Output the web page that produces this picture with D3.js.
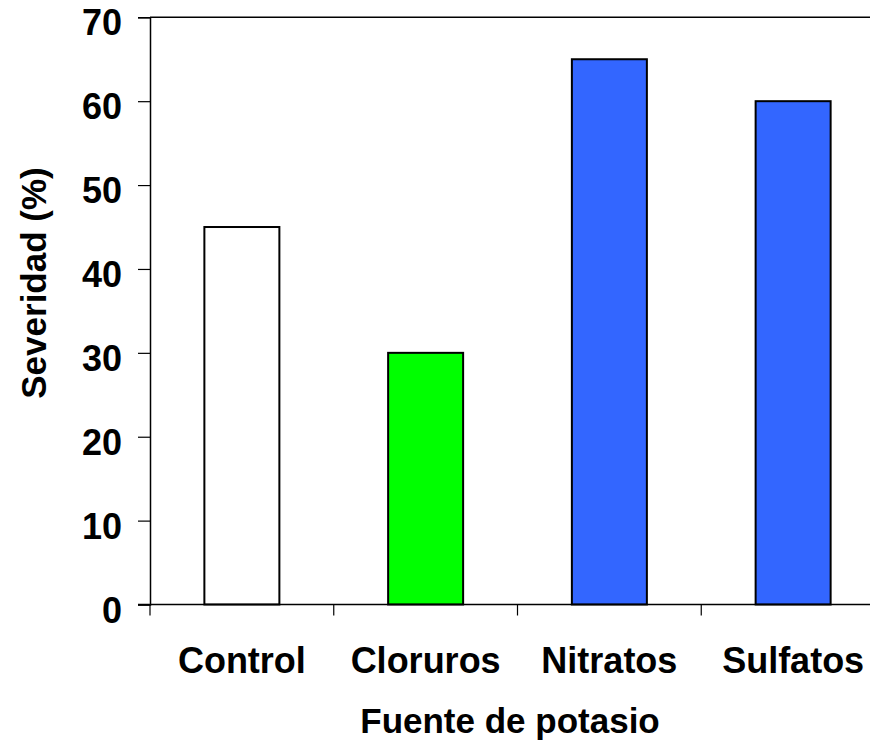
<!DOCTYPE html>
<html><head><meta charset="utf-8">
<script src="https://cdn.jsdelivr.net/npm/d3@7"></script>
<style>body{margin:0;background:#fff}svg{display:block}text{font-family:"Liberation Sans",Arial,sans-serif;font-weight:bold;fill:#000}</style>
</head><body>
<script>
const categories = ["Control","Cloruros","Nitratos","Sulfatos"];
const values = [45,30,65,60];
const colors = ["#ffffff","#00ff00","#3366ff","#3366ff"];
const yTicks = [0,10,20,30,40,50,60,70];

const W=870,H=740;
const svg=d3.select("body").append("svg").attr("width",W).attr("height",H);
const x=d3.scaleBand().domain(categories).range([150,885]).paddingInner(0).paddingOuter(0);
const y=d3.scaleLinear().domain([0,70]).range([604.5,17.3]);
const barW=75;

svg.append("line").attr("x1",150).attr("x2",W).attr("y1",y(70)).attr("y2",y(70)).attr("stroke","#000").attr("stroke-width",1.5);

svg.selectAll("rect.bar").data(values).enter().append("rect")
 .attr("x",(d,i)=>x(categories[i])+x.bandwidth()/2-barW/2)
 .attr("width",barW)
 .attr("y",d=>y(d)).attr("height",d=>y(0)-y(d))
 .attr("fill",(d,i)=>colors[i]).attr("stroke","#000").attr("stroke-width",2);

const ya=svg.append("g").attr("transform","translate(150,0)")
 .call(d3.axisLeft(y).tickValues(yTicks).tickSize(12).tickPadding(16));
ya.select(".domain").attr("stroke","#000").attr("stroke-width",1.5);
ya.selectAll(".tick line").attr("stroke","#000").attr("stroke-width",1.2);
ya.selectAll(".tick text").style("font-size","36px").attr("dy","0.49em").attr("font-family",null);

const xa=svg.append("g").attr("transform",`translate(0,${y(0)})`)
 .call(d3.axisBottom(x).tickSize(0).tickPadding(0));
xa.select(".domain").remove();
xa.append("line").attr("x1",138).attr("x2",W).attr("y1",0).attr("y2",0).attr("stroke","#000").attr("stroke-width",1.5);
const bounds=[150].concat(categories.map(c=>x(c)+x.bandwidth()));
xa.selectAll("line.sep").data(bounds).enter().append("line").attr("class","sep")
 .attr("x1",d=>d).attr("x2",d=>d).attr("y1",0).attr("y2",11).attr("stroke","#000").attr("stroke-width",1.2);
xa.selectAll(".tick text").style("font-size","36px").attr("y",68).attr("dy",0).attr("font-family",null);

svg.append("text").attr("x",510).attr("y",733).attr("text-anchor","middle").style("font-size","35px").text("Fuente de potasio");
svg.append("text").attr("transform","translate(46,283) rotate(-90)").attr("text-anchor","middle").style("font-size","35px").text("Severidad (%)");
</script>
</body></html>
